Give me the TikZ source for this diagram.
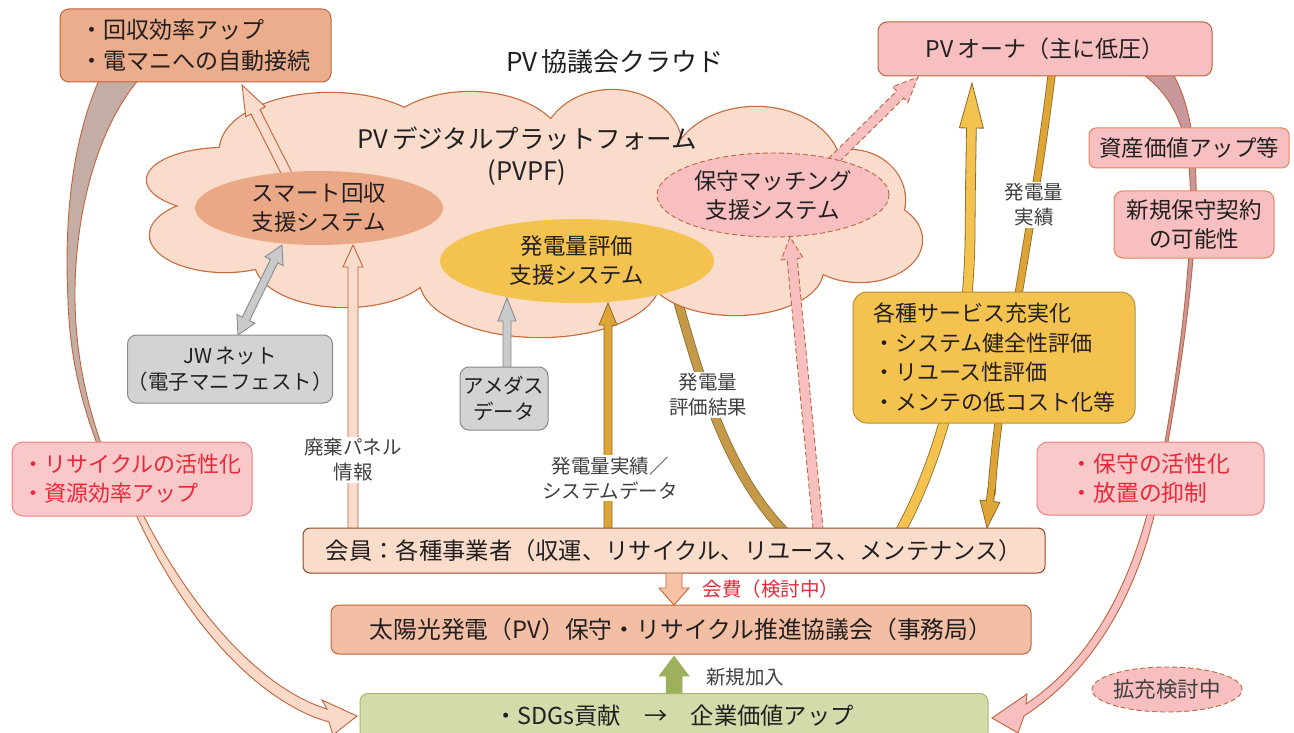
\documentclass[tikz,border=0pt]{standalone}
\usepackage{fontspec}
\setmainfont{Noto Sans CJK JP}
\usetikzlibrary{calc}
\definecolor{txt}{HTML}{231F20}
\definecolor{lblc}{HTML}{404040}
\definecolor{brownline}{HTML}{C0643A}
\definecolor{cloudline}{HTML}{C8693A}
\definecolor{cloudfill}{HTML}{F9DCCB}
\definecolor{salmon}{HTML}{EBAD8C}
\definecolor{smartfill}{HTML}{EBA886}
\definecolor{gold}{HTML}{F3C24F}
\definecolor{goldline}{HTML}{B8923A}
\definecolor{golddark}{HTML}{DDA535}
\definecolor{goldout}{HTML}{8F6A25}
\definecolor{ochre}{HTML}{C49A48}
\definecolor{ochreline}{HTML}{8A6A2A}
\definecolor{pinkfill}{HTML}{F7BFC0}
\definecolor{pinkline}{HTML}{E8845A}
\definecolor{redfill}{HTML}{F9C8C8}
\definecolor{redline}{HTML}{F08080}
\definecolor{redtxt}{HTML}{E9283A}
\definecolor{grayfill}{HTML}{D3D3D3}
\definecolor{grayline}{HTML}{8A8A8A}
\definecolor{arrgray}{HTML}{C8CACC}
\definecolor{memberfill}{HTML}{FADCCB}
\definecolor{memberline}{HTML}{8B4A2B}
\definecolor{kyofill}{HTML}{F2BFA4}
\definecolor{sdgfill}{HTML}{D3DBAA}
\definecolor{sdgline}{HTML}{A8B870}
\definecolor{olivearr}{HTML}{9DB05C}
\definecolor{kaihifill}{HTML}{F6C3A6}
\definecolor{ribtopL}{HTML}{C4ADA5}
\definecolor{ribtopR}{HTML}{C8989C}
\definecolor{ribbotL}{HTML}{F9D9C8}
\newcommand\fsz[2]{\fontsize{#1}{#2}\selectfont}
% #1 fill style, #2 draw style, #3 tail, #4 tip, #5 half shaft, #6 half head, #7 head length
\newcommand\blockarr[7]{%
  \coordinate (bah) at ($(#4)!#7!(#3)$);
  \fill[#1] ($(#3)!#5!90:(#4)$) -- ($(bah)!#5!90:(#4)$) -- ($(bah)!#6!90:(#4)$) -- (#4) -- ($(bah)!#6!-90:(#4)$) -- ($(bah)!#5!-90:(#4)$) -- ($(#3)!#5!-90:(#4)$) -- cycle;
  \draw[#2] ($(#3)!#5!90:(#4)$) -- ($(bah)!#5!90:(#4)$) -- ($(bah)!#6!90:(#4)$) -- (#4) -- ($(bah)!#6!-90:(#4)$) -- ($(bah)!#5!-90:(#4)$) -- ($(#3)!#5!-90:(#4)$);
}
\begin{document}
\begin{tikzpicture}[x=1pt,y=-1pt,
  bx/.style={rectangle, rounded corners=9pt, line width=1pt, align=center, text=txt, inner sep=0pt, font=\fsz{22.5}{29}},
  tnode/.style={align=center, text=txt, inner sep=0pt, font=\fsz{22.5}{29}},
  lbl/.style={fill=white, text=lblc, align=center, inner sep=2pt, font=\fsz{19.5}{25}},
  ribline/.style={draw=brownline, line width=0.9pt},
  pkdash/.style={draw=brownline, line width=0.9pt, dash pattern=on 5pt off 3pt}
]
\useasboundingbox (0,0) rectangle (1294,733);
\fill[white] (0,0) rectangle (1294,733);

% ---------- ribbons (big curved arrows) ----------
\filldraw[fill=ribtopL, ribline] (100,78) .. controls (72,140) and (64,220) .. (68,300) .. controls (70,370) and (88,425) .. (108,470)
  -- (111,470) .. controls (93,425) and (76,370) .. (75,300) .. controls (74,220) and (95,130) .. (140,78) -- cycle;
\coordinate (ltip) at (357,716);
\filldraw[fill=ribbotL, ribline] (118,470) .. controls (165,600) and (250,700) .. (329,722) -- (333,735) -- (ltip) -- (322,700) -- (327,709)
  .. controls (258,688) and (178,600) .. (122,470) -- cycle;
\filldraw[fill=ribtopR, ribline] (1140,72) .. controls (1172,95) and (1187,125) .. (1190,180) .. controls (1193,260) and (1180,360) .. (1160,470)
  -- (1163,470) .. controls (1183,360) and (1197,260) .. (1196,180) .. controls (1194,125) and (1185,95) .. (1172,72) -- cycle;
\coordinate (rtip) at (992,718);
\filldraw[fill=pinkfill, ribline] (1157,470) .. controls (1135,590) and (1085,665) .. (1026,704) -- (1027,694) -- (rtip) -- (1018,733) -- (1024,716)
  .. controls (1092,672) and (1145,590) .. (1163,470) -- cycle;

% ---------- band under cloud ----------
\draw[draw=ochreline, line width=0.8pt, double=ochre, double distance=8pt] (672,280) .. controls (700,380) and (725,470) .. (785,532);

% ---------- right golden arrows ----------
\draw[draw=goldout, line width=0.8pt, double=gold, double distance=9pt] (900,532) .. controls (938,462) and (968,362) .. (970,240) -- (970.5,180);
\coordinate (yut) at (970.5,190); \coordinate (yuh) at (972,83);
\blockarr{fill=gold}{draw=goldout, line width=0.8pt}{yut}{yuh}{4.9pt}{12pt}{45pt}
\draw[draw=goldout, line width=0.8pt, double=golddark, double distance=6.5pt] (1052,72) .. controls (1030,250) and (996,400) .. (991.5,495);
\coordinate (ydt) at (991.5,488); \coordinate (ydh) at (987,528);
\blockarr{fill=golddark}{draw=goldout, line width=0.8pt}{ydt}{ydh}{3.65pt}{10pt}{27pt}

% ---------- cloud ----------
\foreach \cx/\cy/\rx/\ry in {225/180/78/32, 225/235/75/37, 345/262/90/45, 330/150/110/57, 470/150/95/58, 612/148/70/58, 756/170/85/63, 850/200/55/50, 860/240/62/42, 735/270/88/45, 540/280/120/57}
  \draw[draw=cloudline, line width=2.4pt] (\cx,\cy) ellipse [x radius=\rx pt, y radius=\ry pt];
\foreach \cx/\cy/\rx/\ry in {225/180/78/32, 225/235/75/37, 345/262/90/45, 330/150/110/57, 470/150/95/58, 612/148/70/58, 756/170/85/63, 850/200/55/50, 860/240/62/42, 735/270/88/45, 540/280/120/57, 540/210/320/75}
  \fill[cloudfill] (\cx,\cy) ellipse [x radius=\rx pt, y radius=\ry pt];

% ---------- arrows over cloud ----------
\coordinate (a1t) at (288,176); \coordinate (a1h) at (242,85);
\blockarr{fill=cloudfill}{draw=brownline, line width=0.9pt}{a1t}{a1h}{5pt}{11pt}{30pt}
\coordinate (jwend) at (238,335); \coordinate (smend) at (282,245); \coordinate (jwmid) at (260,290);
\blockarr{fill=arrgray}{draw=grayline, line width=0.9pt}{jwmid}{jwend}{4pt}{10pt}{18pt}
\blockarr{fill=arrgray}{draw=grayline, line width=0.9pt}{jwmid}{smend}{4pt}{10pt}{18pt}
\coordinate (amt) at (507,367); \coordinate (amh) at (507,298);
\blockarr{fill=arrgray}{draw=grayline, line width=0.9pt}{amt}{amh}{4pt}{9pt}{23pt}
\coordinate (hkt) at (353,528); \coordinate (hkh) at (353,245);
\blockarr{fill=cloudfill}{draw=brownline, line width=0.9pt}{hkt}{hkh}{5pt}{10pt}{22pt}
\coordinate (jst) at (608,528); \coordinate (jsh) at (608,303);
\blockarr{fill=golddark}{draw=goldout, line width=0.8pt}{jst}{jsh}{4pt}{9pt}{22pt}
\coordinate (pkt) at (818,528); \coordinate (pkh) at (790,237);
\blockarr{fill=pinkfill}{pkdash}{pkt}{pkh}{5pt}{11pt}{22pt}
\coordinate (pot) at (832,162); \coordinate (poh) at (918,77);
\blockarr{fill=pinkfill}{pkdash}{pot}{poh}{5pt}{11pt}{25pt}

% ---------- ellipses ----------
\fill[smartfill] (319,208) ellipse [x radius=124pt, y radius=37pt];
\node[tnode] (smart) at (319,208) {スマート回収\\支援システム};
\fill[gold] (577,261) ellipse [x radius=137pt, y radius=42pt];
\node[tnode] (hyoka) at (577,261) {発電量評価\\支援システム};
\filldraw[fill=pinkfill, pkdash] (773,195) ellipse [x radius=116pt, y radius=42pt];
\node[tnode] (hoshu) at (773,195) {保守マッチング\\支援システム};

% ---------- titles ----------
\node[tnode, font=\fsz{26}{30}] (title) at (615,62) {PV\,協議会クラウド};
\node[tnode, font=\fsz{25.5}{32}] (pvpf) at (527,156) {PV\,デジタルプラットフォーム\\(PVPF)};

% ---------- boxes ----------
\node[bx, fill=salmon, draw=brownline, minimum width=271pt, minimum height=73pt, align=left, font=\fsz{23}{31}] (tl) at (195.5,45.5) {・回収効率アップ\\・電マニへの自動接続};
\node[bx, fill=pinkfill, draw=brownline, minimum width=334pt, minimum height=54pt, font=\fsz{23}{29}] (owner) at (1045,49) {PV\,オーナ（主に低圧）};
\node[bx, fill=pinkfill, draw=pinkline, rounded corners=7pt, minimum width=200pt, minimum height=40pt] (shisan) at (1189,148) {資産価値アップ等};
\node[bx, fill=pinkfill, draw=pinkline, minimum width=160pt, minimum height=67pt] (shinki) at (1194,224.5) {新規保守契約\\の可能性};
\node[bx, fill=gold, draw=goldline, rounded corners=14pt, minimum width=282pt, minimum height=131pt, align=left, font=\fsz{22}{29.5}] (service) at (994,357.5) {各種サービス充実化\\・システム健全性評価\\・リユース性評価\\・メンテの低コスト化等};
\node[bx, fill=redfill, draw=redline, text=redtxt, rounded corners=11pt, minimum width=227pt, minimum height=73pt, align=left, font=\fsz{22.8}{29}] (hozen) at (1150.5,478.5) {・保守の活性化\\・放置の抑制};
\node[bx, fill=redfill, draw=redline, text=redtxt, rounded corners=11pt, minimum width=240pt, minimum height=74pt, align=left, font=\fsz{22}{29}] (recycle) at (132,479) {・リサイクルの活性化\\・資源効率アップ};
\node[bx, fill=grayfill, draw=grayline, minimum width=200pt, minimum height=68pt, font=\fsz{20.5}{26}] (jw) at (230,369) {JW\,ネット\\（電子マニフェスト）};
\node[bx, fill=grayfill, draw=grayline, minimum width=88pt, minimum height=63pt, font=\fsz{20.5}{26}] (amedas) at (504,398.5) {アメダス\\データ};
\node[bx, fill=memberfill, draw=memberline, rounded corners=7pt, minimum width=742pt, minimum height=45pt, font=\fsz{23.3}{29}] (member) at (674,550.5) {会員：各種事業者（収運、リサイクル、リユース、メンテナンス）};
\node[bx, fill=kyofill, draw=brownline, rounded corners=8pt, minimum width=700pt, minimum height=49pt, font=\fsz{23.8}{29}] (kyo) at (681,629.5) {太陽光発電（PV）保守・リサイクル推進協議会（事務局）};
\node[bx, fill=sdgfill, draw=sdgline, rounded corners=8pt, minimum width=628pt, minimum height=52pt] (sdg) at (674,719.5) {};
\node[tnode, font=\fsz{23.3}{29}] (sdgtxt) at (674,716) {・SDGs貢献　→　企業価値アップ};
\filldraw[fill=pinkfill, pkdash] (1167,689.5) ellipse [x radius=75pt, y radius=22.5pt];
\node[tnode, font=\fsz{21.5}{26}, text=lblc] (kakuju) at (1167,689.5) {拡充検討中};

% ---------- bottom arrows ----------
\coordinate (kht) at (674,573.5); \coordinate (khh) at (674,605);
\blockarr{fill=kaihifill}{draw=brownline, line width=0.9pt}{kht}{khh}{8pt}{15pt}{17pt}
\coordinate (sgt) at (674,693); \coordinate (sgh) at (674,656);
\blockarr{fill=olivearr}{draw=olivearr, line width=0.5pt}{sgt}{sgh}{8pt}{15pt}{20pt}

% ---------- labels ----------
\node[lbl] (lhaiki) at (353,460) {廃棄パネル\\情報};
\node[lbl] (ljiss) at (610,478) {発電量実績／\\システムデータ};
\node[lbl] (lkekka) at (708,395) {発電量\\評価結果};
\node[lbl] (lowner) at (1034,205) {発電量\\実績};
\node[tnode, text=redtxt, font=\fsz{19.5}{25}] (lkaihi) at (771,589) {会費（検討中）};
\node[tnode, text=lblc, font=\fsz{19.5}{25}] (lkanyu) at (745,677) {新規加入};
\end{tikzpicture}
\end{document}
